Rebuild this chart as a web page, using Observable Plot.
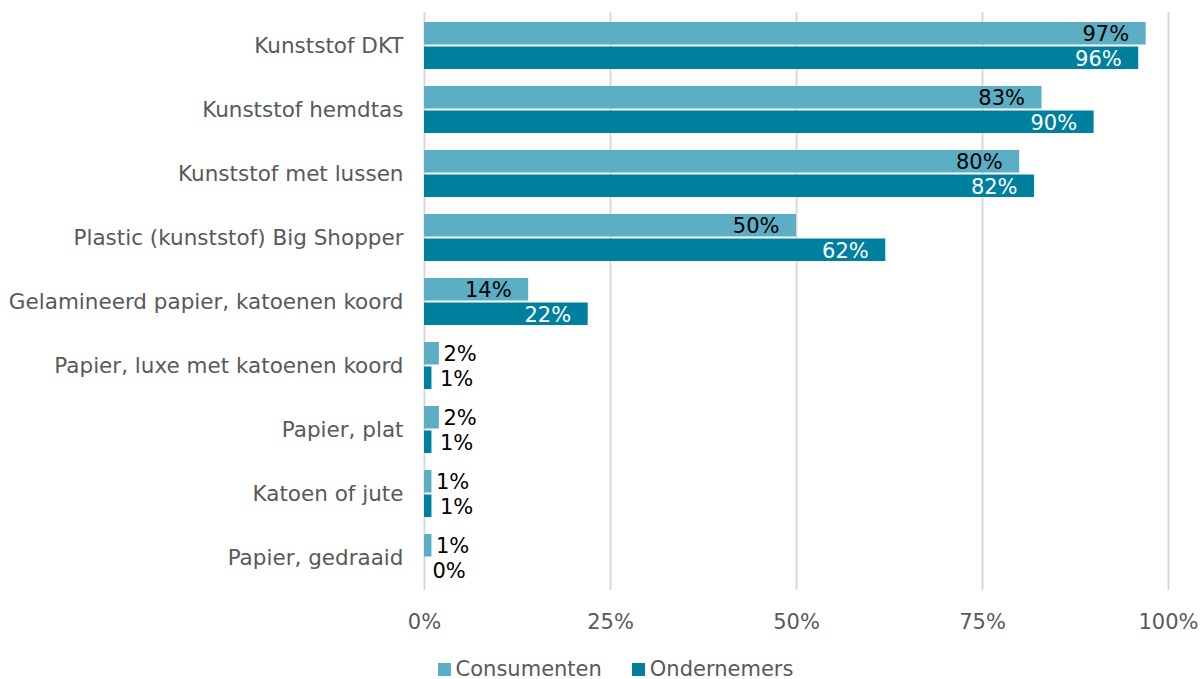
<!DOCTYPE html>
<html>
<head>
<meta charset="utf-8">
<script src="https://cdn.jsdelivr.net/npm/d3@7"></script>
<script src="https://cdn.jsdelivr.net/npm/@observablehq/plot@0.6"></script>
<style>
  html, body { margin: 0; padding: 0; background: #fff; }
  body { width: 1201px; height: 679px; overflow: hidden; font-family: "DejaVu Sans", Verdana, sans-serif; }
  #chart svg { display: block; }
  #legend { height: 39px; display: flex; justify-content: center; align-items: center; padding-left: 30px; box-sizing: border-box; padding-top: 19px; color: #595959; font-size: 21px; line-height: 20px; }
  .item { display: flex; align-items: center; margin: 0 15px; white-space: nowrap; }
  .sw { width: 13px; height: 13px; margin-right: 5px; display: inline-block; }
</style>
</head>
<body>
<div id="chart"></div>
<div id="legend"></div>
<script>
const categories = [
  "Kunststof DKT",
  "Kunststof hemdtas",
  "Kunststof met lussen",
  "Plastic (kunststof) Big Shopper",
  "Gelamineerd papier, katoenen koord",
  "Papier, luxe met katoenen koord",
  "Papier, plat",
  "Katoen of jute",
  "Papier, gedraaid"
];
const consumenten = [97, 83, 80, 50, 14, 2, 2, 1, 1];
const ondernemers = [96, 90, 82, 62, 22, 1, 1, 1, 0];
const seriesNames = ["Consumenten", "Ondernemers"];
const seriesColors = ["#5BAEC4", "#00809F"];
const xTicks = [0, 25, 50, 75, 100];

const rows = categories.flatMap((c, i) => [
  {cat: c, series: seriesNames[0], value: consumenten[i]},
  {cat: c, series: seriesNames[1], value: ondernemers[i]}
]);
const cons = rows.filter(d => d.series === seriesNames[0]);
const ond = rows.filter(d => d.series === seriesNames[1]);
const fmt = d => d.value + "%";
const font = "DejaVu Sans, Verdana, sans-serif";

const chart = Plot.plot({
  width: 1201,
  height: 640,
  marginLeft: 424,
  marginRight: 33,
  marginTop: 12,
  marginBottom: 50,
  style: {fontFamily: font, fontSize: "21px", background: "#fff"},
  x: {domain: [0, 100]},
  y: {domain: categories, paddingInner: 0.267, paddingOuter: 0.14},
  marks: [
    Plot.gridX(xTicks, {stroke: "#d9d9d9", strokeWidth: 2, strokeOpacity: 1}),
    Plot.barX(cons, {y: "cat", x: "value", fill: seriesColors[0], insetBottom: 24.5}),
    Plot.barX(ond, {y: "cat", x: "value", fill: seriesColors[1], insetTop: 24.5}),
    Plot.text(cons.filter(d => d.value >= 10), {y: "cat", x: "value", text: fmt, textAnchor: "end", dx: -17, dy: -12, fill: "#000", fontSize: 21}),
    Plot.text(ond.filter(d => d.value >= 10), {y: "cat", x: "value", text: fmt, textAnchor: "end", dx: -17, dy: 13, fill: "#fff", fontSize: 21}),
    Plot.text(cons.filter(d => d.value < 10), {y: "cat", x: "value", text: fmt, textAnchor: "start", dx: 4, dy: -12, fill: "#000", fontSize: 21}),
    Plot.text(ond.filter(d => d.value < 10), {y: "cat", x: "value", text: fmt, textAnchor: "start", dx: 8, dy: 13, fill: "#000", fontSize: 21}),
    Plot.axisX({ticks: xTicks, tickFormat: d => d + "%", tickSize: 0, tickPadding: 24, fill: "#595959", fontSize: 21, label: null}),
    Plot.axisY({tickSize: 0, tickPadding: 21, fill: "#595959", fontSize: 21.5, label: null})
  ]
});
document.getElementById("chart").appendChild(chart);

const legend = document.getElementById("legend");
seriesNames.forEach((name, i) => {
  const item = document.createElement("div");
  item.className = "item";
  const sw = document.createElement("span");
  sw.className = "sw";
  sw.style.background = seriesColors[i];
  const label = document.createElement("span");
  label.textContent = name;
  item.appendChild(sw);
  item.appendChild(label);
  legend.appendChild(item);
});
</script>
</body>
</html>
